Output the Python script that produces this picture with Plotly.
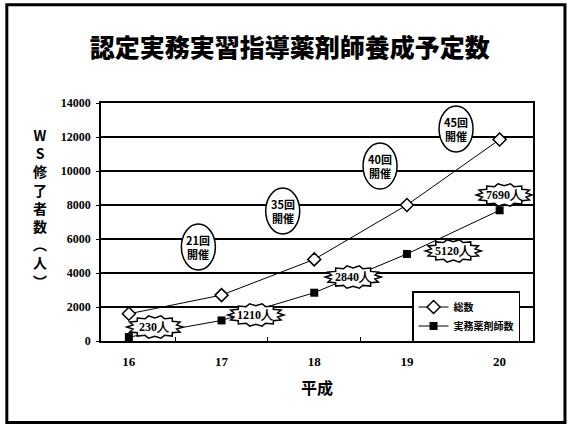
import math
import plotly.graph_objects as go

# ---- data ----
years = ["16", "17", "18", "19", "20"]
total = [1600, 2700, 4800, 8000, 11850]
practicing = [230, 1210, 2840, 5120, 7690]
series_names = ["総数", "実務薬剤師数"]
count_labels = ["230人", "1210人", "2840人", "5120人", "7690人"]
session_labels = ["21回<br>開催", "35回<br>開催", "40回<br>開催", "45回<br>開催"]
yticks = [0, 2000, 4000, 6000, 8000, 10000, 12000, 14000]

# annotation anchor positions (category index, value)
count_pos = [(0.28, 820), (1.37, 1530), (2.42, 3760), (3.5, 5300), (4.05, 8590)]
session_pos = [(0.75, 5530), (1.66, 7650), (2.71, 10290), (3.53, 12470)]

CJK = "Noto Sans CJK JP"
SERIF = "Liberation Serif"

fig = go.Figure()
fig.add_trace(go.Scatter(
    x=years, y=total, name=series_names[0], mode="lines+markers",
    line=dict(color="black", width=1),
    marker=dict(symbol="diamond", size=10, color="white",
                line=dict(color="black", width=1.5)),
))
fig.add_trace(go.Scatter(
    x=years, y=practicing, name=series_names[1], mode="lines+markers",
    line=dict(color="black", width=1),
    marker=dict(symbol="square", size=8, color="black"),
))


def burst_path(rx, ry, n):
    pts = []
    for i in range(2 * n):
        a = math.pi * i / n
        r = 1.0 if i % 2 == 0 else 0.8
        pts.append((rx * r * math.cos(a), ry * r * math.sin(a)))
    return "M " + " L ".join(f"{x:.1f},{y:.1f}" for x, y in pts) + " Z"


shapes = []
annotations = []
for (cx, cy), txt in zip(count_pos, count_labels):
    shapes.append(dict(
        type="path", xref="x", yref="y", xsizemode="pixel", ysizemode="pixel",
        xanchor=cx, yanchor=cy, path=burst_path(28, 11.5, 14),
        fillcolor="white", line=dict(color="black", width=1.5), layer="above"))
    annotations.append(dict(
        x=cx, y=cy, xref="x", yref="y", text=txt, showarrow=False,
        font=dict(family=SERIF, size=12, color="black", weight="bold")))

for (cx, cy), txt in zip(session_pos, session_labels):
    shapes.append(dict(
        type="circle", xref="x", yref="y", xsizemode="pixel", ysizemode="pixel",
        xanchor=cx, yanchor=cy, x0=-17, x1=17, y0=-23, y1=23,
        fillcolor="white", line=dict(color="black", width=1.5), layer="above"))
    annotations.append(dict(
        x=cx, y=cy, xref="x", yref="y", text=txt, showarrow=False,
        font=dict(family=CJK, size=11, color="black", weight="bold")))

# outer frame
shapes.append(dict(type="rect", xref="paper", yref="paper",
                   x0=-0.218, x1=1.074, y0=-0.342, y1=1.413,
                   line=dict(color="black", width=3), fillcolor="rgba(0,0,0,0)"))

# y-axis vertical title
annotations.append(dict(
    x=-0.163, y=0.56, xref="paper", yref="paper", showarrow=False,
    text="W<br>S<br>修<br>了<br>者<br>数<br>︵<br>人<br>︶",
    font=dict(family=CJK, size=14, color="black", weight="bold"),
    align="center"))

fig.update_layout(
    width=568, height=426,
    margin=dict(l=101, r=35, t=103, b=85),
    paper_bgcolor="white", plot_bgcolor="white",
    title=dict(text="認定実務実習指導薬剤師養成予定数", x=0.51, xanchor="center",
               y=0.887, yanchor="middle",
               font=dict(family=CJK, size=25, color="black", weight=900)),
    showlegend=True,
    legend=dict(x=0.72, y=0.21, xanchor="left", yanchor="top",
                bgcolor="white", bordercolor="black", borderwidth=1.5,
                font=dict(family=CJK, size=10, color="black", weight="bold"),
                itemwidth=30, tracegroupgap=0),
    shapes=shapes, annotations=annotations,
)
fig.update_xaxes(
    type="category", showgrid=False, showline=True, linecolor="black", linewidth=1.5,
    mirror=True, ticks="inside", tickson="boundaries", ticklen=4, tickcolor="black",
    ticklabelstandoff=8,
    tickfont=dict(family=SERIF, size=13, color="black", weight="bold"),
    title=dict(text="平成", standoff=14,
               font=dict(family=CJK, size=16, color="black", weight="bold")),
)
fig.update_yaxes(
    range=[0, 14000], tickvals=yticks, ticktext=[str(v) for v in yticks],
    showgrid=True, gridcolor="black", gridwidth=2,
    showline=True, linecolor="black", linewidth=1.5, mirror=True,
    ticks="outside", ticklen=3, tickcolor="black", zeroline=False,
    ticklabelstandoff=3,
    tickfont=dict(family=SERIF, size=12, color="black", weight="bold"),
)

fig.write_html("out.html")
